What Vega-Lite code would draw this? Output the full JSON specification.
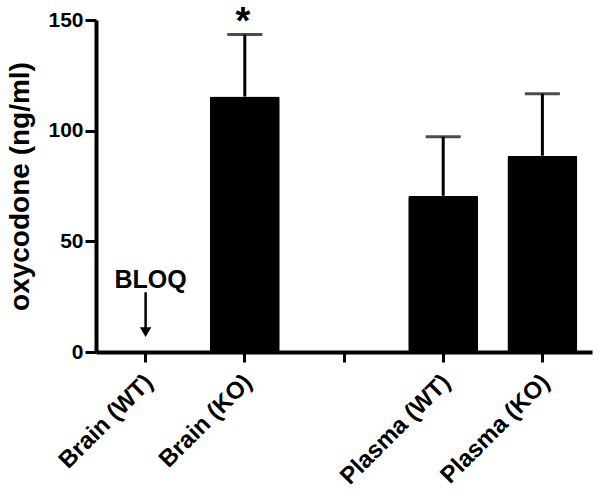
{
  "$schema": "https://vega.github.io/schema/vega-lite/v6.json",
  "width": 496,
  "height": 332,
  "autosize": "none",
  "padding": {"left": 96, "top": 20, "right": 9, "bottom": 145},
  "background": "white",
  "config": {"view": {"stroke": null}, "font": "Liberation Sans"},
  "data": {"values": [
    {"category": "Brain (WT)", "mean": null, "upper": null, "note": "BLOQ"},
    {"category": "Brain (KO)", "mean": 115.4, "upper": 143.4, "sig": "*"},
    {"category": "Plasma (WT)", "mean": 70.6, "upper": 97.3},
    {"category": "Plasma (KO)", "mean": 88.7, "upper": 116.7}
  ]},
  "encoding": {
    "x": {
      "field": "category", "type": "nominal",
      "scale": {"domain": ["Brain (WT)", "Brain (KO)", " ", "Plasma (WT)", "Plasma (KO)"], "paddingInner": 0, "paddingOuter": 0},
      "axis": {"title": null, "labelAngle": -45, "labelFontSize": 24, "labelFontWeight": "bold", "labelColor": "black", "domainColor": "black", "domainWidth": 4, "tickColor": "black", "tickWidth": 3, "tickSize": 10, "labelPadding": 8, "labelOffset": -5}
    }
  },
  "layer": [
    {
      "mark": {"type": "rule", "strokeWidth": 3, "color": "black"},
      "encoding": {
        "y": {"field": "mean", "type": "quantitative", "scale": {"domain": [0, 150], "nice": false},
          "axis": {"values": [0, 50, 100, 150], "title": "oxycodone (ng/ml)", "titleFontSize": 28, "titleFontWeight": "bold", "titleColor": "black", "titlePadding": 13, "labelFontSize": 21, "labelFontWeight": "bold", "labelColor": "black", "domainColor": "black", "domainWidth": 4, "tickColor": "black", "tickWidth": 3, "tickSize": 11, "labelPadding": 2, "grid": false}},
        "y2": {"field": "upper"}
      }
    },
    {
      "mark": {"type": "tick", "size": 35, "thickness": 3, "color": "black"},
      "encoding": {"y": {"field": "upper", "type": "quantitative", "scale": {"domain": [0, 150], "nice": false}}}
    },
    {
      "mark": {"type": "bar", "size": 70, "color": "black", "cornerRadius": 2},
      "encoding": {"y": {"field": "mean", "type": "quantitative", "scale": {"domain": [0, 150], "nice": false}}}
    },
    {
      "transform": [{"filter": "datum.sig"}],
      "mark": {"type": "text", "fontSize": 38, "fontWeight": "bold", "color": "black", "baseline": "alphabetic", "dy": -1, "dx": -2},
      "encoding": {"y": {"field": "upper", "type": "quantitative", "scale": {"domain": [0, 150], "nice": false}}, "text": {"field": "sig"}}
    },
    {
      "transform": [{"filter": "datum.note"}],
      "mark": {"type": "text", "fontSize": 25, "fontWeight": "bold", "color": "black", "baseline": "alphabetic", "dx": 5},
      "encoding": {"y": {"datum": 29, "scale": {"domain": [0, 150], "nice": false}}, "text": {"field": "note"}}
    },
    {
      "transform": [{"filter": "datum.note"}],
      "mark": {"type": "rule", "strokeWidth": 2.5, "color": "black"},
      "encoding": {"y": {"datum": 27, "scale": {"domain": [0, 150], "nice": false}}, "y2": {"datum": 10}}
    },
    {
      "transform": [{"filter": "datum.note"}],
      "mark": {"type": "point", "shape": "triangle-down", "filled": true, "size": 130, "color": "black", "opacity": 1},
      "encoding": {"y": {"datum": 9, "scale": {"domain": [0, 150], "nice": false}}}
    }
  ]
}
